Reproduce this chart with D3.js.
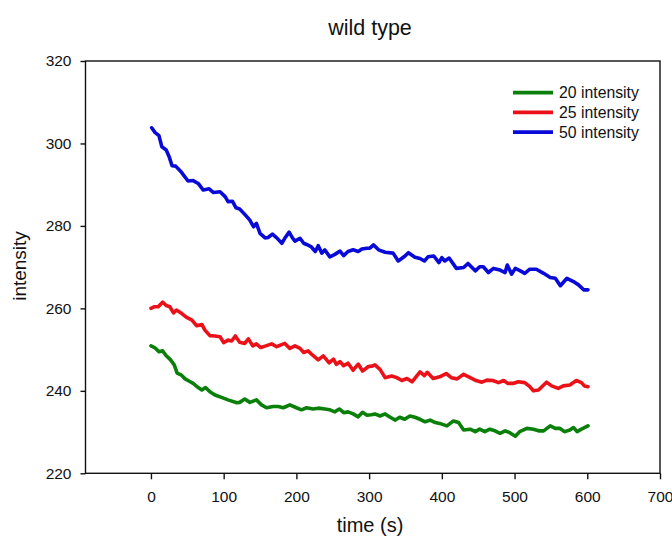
<!DOCTYPE html>
<html>
<head>
<meta charset="utf-8">
<script src="https://cdn.jsdelivr.net/npm/d3@7"></script>
<style>
  html, body { margin: 0; padding: 0; background: #fff; }
  svg { display: block; font-family: "Liberation Sans", Arial, sans-serif; }
</style>
</head>
<body>
<svg id="chart" width="672" height="540"></svg>
<script>
// Fluorescence intensity over time, wild type, three excitation intensities
const xTicks = [0, 100, 200, 300, 400, 500, 600, 700];
const yTicks = [220, 240, 260, 280, 300, 320];
const seriesNames = ["20 intensity", "25 intensity", "50 intensity"];

const time20 = [0, 5, 11, 16, 21, 27, 32, 36, 42, 47, 54, 58, 65, 70, 75, 81, 88, 97, 106, 118, 122, 129, 136, 145, 152, 159, 168, 175, 182, 191, 200, 207, 214, 223, 230, 239, 246, 253, 259, 265, 271, 278, 285, 291, 297, 303, 308, 315, 322, 329, 336, 342, 349, 356, 363, 370, 377, 384, 391, 397, 407, 416, 423, 430, 439, 446, 452, 459, 466, 473, 480, 487, 494, 501, 507, 517, 526, 533, 540, 549, 556, 562, 569, 576, 581, 586, 592, 601];
const val20 = [250.9, 250.5, 249.5, 249.7, 248.5, 247.5, 246.3, 244.3, 243.8, 242.9, 242.2, 241.8, 240.8, 240.2, 240.8, 239.8, 239.0, 238.4, 237.8, 237.1, 237.2, 238.0, 237.2, 237.8, 236.6, 235.9, 236.2, 236.2, 235.9, 236.6, 235.9, 235.4, 235.9, 235.6, 235.8, 235.6, 235.4, 234.9, 235.6, 234.7, 234.9, 234.4, 233.7, 234.8, 234.1, 234.2, 234.4, 233.9, 234.4, 233.6, 232.9, 233.6, 233.1, 233.9, 233.6, 233.1, 232.5, 232.9, 232.3, 232.1, 231.5, 232.7, 232.3, 230.5, 230.7, 230.1, 230.7, 230.1, 230.7, 230.3, 229.7, 230.3, 229.8, 229.0, 230.1, 230.9, 230.7, 230.3, 230.3, 231.5, 230.9, 230.9, 230.1, 230.5, 231.1, 230.1, 230.7, 231.5];

const time25 = [0, 5, 10, 16, 21, 26, 31, 35, 42, 49, 56, 63, 70, 74, 81, 88, 95, 100, 106, 111, 116, 122, 129, 134, 140, 145, 151, 158, 166, 173, 178, 184, 191, 198, 205, 210, 216, 222, 230, 237, 245, 251, 255, 260, 265, 271, 278, 285, 291, 299, 304, 308, 315, 322, 331, 338, 345, 352, 359, 370, 376, 380, 388, 397, 406, 413, 421, 430, 439, 447, 455, 462, 470, 478, 485, 491, 498, 505, 514, 521, 526, 533, 540, 544, 551, 560, 567, 576, 585, 592, 596, 601];
const val25 = [260.0, 260.4, 260.4, 261.5, 260.7, 260.4, 258.9, 259.6, 258.8, 257.8, 257.2, 255.8, 256.1, 254.8, 253.4, 253.3, 253.1, 251.7, 252.3, 252.1, 253.3, 251.8, 251.5, 252.6, 250.9, 251.4, 250.5, 250.9, 251.4, 250.7, 251.1, 251.5, 250.3, 250.9, 250.3, 249.3, 249.7, 248.7, 247.5, 248.5, 246.8, 247.7, 246.4, 247.1, 246.1, 246.7, 245.0, 246.5, 244.8, 245.9, 246.0, 246.3, 245.2, 243.2, 243.6, 243.2, 242.5, 243.0, 242.2, 244.6, 243.7, 244.5, 243.0, 243.4, 244.2, 243.2, 242.9, 244.0, 243.2, 242.5, 242.1, 242.6, 242.5, 242.0, 242.5, 241.8, 241.8, 242.2, 242.0, 241.0, 240.0, 240.2, 241.4, 242.1, 241.2, 240.6, 241.2, 241.4, 242.5, 242.0, 241.2, 241.0];

const time50 = [1, 5.5, 11, 15, 21, 25, 29, 34, 42, 51, 58, 65, 72, 80, 86, 95, 102, 106, 112, 117, 122, 129, 136, 141, 145, 150, 157, 161, 167, 173, 180, 184, 190, 195, 198, 205, 210, 214, 220, 226, 230, 235, 239, 246, 253, 260, 265, 271, 278, 285, 290, 297, 301, 306, 313, 322, 333, 340, 348, 354, 363, 370, 376, 381, 389, 396, 400, 404, 410, 420, 430, 436, 446, 452, 457, 464, 471, 480, 487, 490, 496, 501, 508, 514, 521, 530, 540, 549, 556, 563, 572, 581, 588, 595, 601];
const val50 = [303.8, 302.7, 301.9, 299.2, 298.4, 296.8, 294.6, 294.5, 293.0, 290.9, 291.0, 290.3, 288.7, 289.0, 288.1, 288.3, 287.1, 285.9, 286.0, 284.4, 284.1, 282.8, 281.4, 279.8, 280.6, 278.2, 277.1, 277.2, 278.0, 277.1, 275.8, 277.0, 278.5, 277.0, 276.3, 277.0, 275.8, 275.5, 275.0, 273.8, 275.2, 273.4, 274.2, 272.5, 273.1, 273.9, 272.8, 273.8, 274.2, 273.8, 274.4, 274.6, 274.6, 275.4, 274.2, 273.6, 273.4, 271.5, 272.5, 273.5, 272.4, 272.1, 271.5, 272.5, 272.7, 271.1, 272.3, 271.5, 272.2, 269.7, 269.9, 270.9, 269.1, 270.1, 270.1, 268.7, 269.7, 269.3, 268.7, 270.5, 268.3, 269.7, 269.1, 268.5, 269.5, 269.5, 268.5, 267.5, 267.3, 265.5, 267.3, 266.5, 265.7, 264.5, 264.5];

const colors = ["#0a800a", "#ea1218", "#0a0ad8"];

const svg = d3.select("#chart");
const plot = { left: 85.5, right: 660, top: 61, bottom: 473.3 };

const x = d3.scaleLinear().domain([-90, 700]).range([plot.left, plot.right]);
const y = d3.scaleLinear().domain([220, 320]).range([plot.bottom, plot.top]);

// frame around the plotting area
svg.append("rect")
  .attr("x", plot.left).attr("y", plot.top)
  .attr("width", plot.right - plot.left).attr("height", plot.bottom - plot.top)
  .attr("fill", "none").attr("stroke", "#111").attr("stroke-width", 1.4);

const styleAxis = g => {
  g.select(".domain").remove();
  g.selectAll(".tick line").attr("stroke", "#111").attr("stroke-width", 1.4);
  g.selectAll(".tick text").attr("fill", "#111").attr("font-size", "15.5px")
    .attr("font-family", "'Liberation Sans', Arial, sans-serif");
};

svg.append("g")
  .attr("transform", `translate(0,${plot.bottom})`)
  .call(d3.axisBottom(x).tickValues(xTicks).tickFormat(d3.format("d")).tickSize(6).tickPadding(12))
  .call(styleAxis);

svg.append("g")
  .attr("transform", `translate(${plot.left},0)`)
  .call(d3.axisLeft(y).tickValues(yTicks).tickFormat(d3.format("d")).tickSize(5).tickPadding(9))
  .call(styleAxis);

// data lines
const series = [
  { name: seriesNames[0], t: time20, v: val20, color: colors[0] },
  { name: seriesNames[1], t: time25, v: val25, color: colors[1] },
  { name: seriesNames[2], t: time50, v: val50, color: colors[2] }
];

const line = d3.line().x(d => x(d[0])).y(d => y(d[1]));

series.forEach(s => {
  svg.append("path")
    .datum(d3.zip(s.t, s.v))
    .attr("d", line)
    .attr("fill", "none")
    .attr("stroke", s.color)
    .attr("stroke-width", 3.6)
    .attr("stroke-linejoin", "round")
    .attr("stroke-linecap", "round");
});

// legend
const legend = svg.append("g").attr("transform", "translate(513,92.7)");
series.forEach((s, i) => {
  const row = legend.append("g").attr("transform", `translate(0,${i * 19.7})`);
  row.append("line").attr("x1", 0).attr("x2", 40).attr("y1", 0).attr("y2", 0)
    .attr("stroke", s.color).attr("stroke-width", 3.8);
  row.append("text").attr("x", 46).attr("y", 0).attr("dy", "0.35em")
    .attr("font-size", "15.8px").attr("fill", "#111").text(s.name);
});

// titles
svg.append("text").attr("x", 370).attr("y", 35).attr("text-anchor", "middle")
  .attr("font-size", "21.5px").attr("fill", "#111").text("wild type");

svg.append("text").attr("x", 370).attr("y", 532).attr("text-anchor", "middle")
  .attr("font-size", "20px").attr("fill", "#111").text("time (s)");

svg.append("text")
  .attr("transform", "translate(26,266) rotate(-90)")
  .attr("text-anchor", "middle")
  .attr("font-size", "19px").attr("fill", "#111").text("intensity");
</script>
</body>
</html>
